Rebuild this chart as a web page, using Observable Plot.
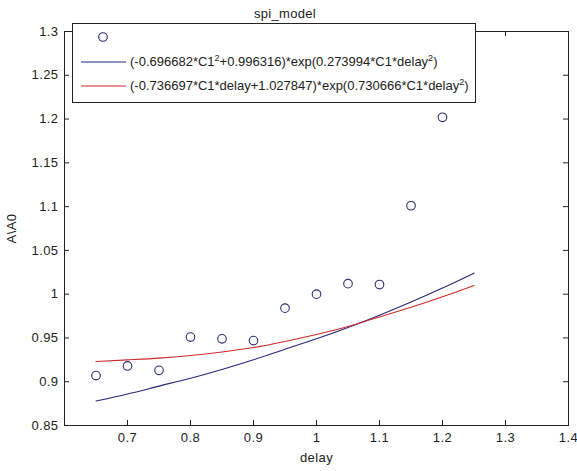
<!DOCTYPE html>
<html>
<head>
<meta charset="utf-8">
<script src="https://cdn.jsdelivr.net/npm/d3@7"></script>
<script src="https://cdn.jsdelivr.net/npm/@observablehq/plot@0.6"></script>
<style>
  html, body { margin: 0; padding: 0; background: #fff; }
  #wrap { position: relative; width: 577px; height: 471px; font-family: "Liberation Sans", Arial, sans-serif; }
  #title { position: absolute; top: 6px; left: 285px; transform: translateX(-50%); font-size: 13px; color: #222; white-space: nowrap; letter-spacing: 0.3px; }
  #legend { position: absolute; left: 72px; top: 23px; width: 402px; height: 78px; background: #fff; border: 1px solid #222; }
  #legend svg { position: absolute; left: 0; top: 0; }
  .lt { position: absolute; left: 57px; font-size: 13px; color: #222; white-space: nowrap; }
  .lt sup { font-size: 9px; vertical-align: 5px; line-height: 0; }
  #chart svg { font-family: "Liberation Sans", Arial, sans-serif; }
  #chart svg text { letter-spacing: 0.4px; }
</style>
</head>
<body>
<div id="wrap">
  <div id="chart"></div>
  <div id="title"></div>
  <div id="legend"></div>
</div>
<script>
// Measured data (circles)
const delay = [0.65, 0.70, 0.75, 0.80, 0.85, 0.90, 0.95, 1.00, 1.05, 1.10, 1.15, 1.20];
const ratio = [0.907, 0.918, 0.913, 0.951, 0.949, 0.947, 0.984, 1.000, 1.012, 1.011, 1.101, 1.202];

// Fitted curves
const fitDelay = [0.65, 0.70, 0.75, 0.80, 0.85, 0.90, 0.95, 1.00, 1.05, 1.10, 1.15, 1.20, 1.25];
const blueFit  = [0.878, 0.886, 0.895, 0.904, 0.914, 0.925, 0.937, 0.949, 0.962, 0.976, 0.991, 1.007, 1.024];
const redFit   = [0.923, 0.925, 0.927, 0.930, 0.934, 0.939, 0.946, 0.954, 0.963, 0.974, 0.985, 0.997, 1.010];

const xTicks = [0.7, 0.8, 0.9, 1.0, 1.1, 1.2, 1.3, 1.4];
const yTicks = [0.85, 0.9, 0.95, 1.0, 1.05, 1.1, 1.15, 1.2, 1.25, 1.3];

const titleText = "spi_model";
const xLabel = "delay";
const yLabel = "A\\A0";
const legendLabels = [
  "",
  "(-0.696682*C1<sup>2</sup>+0.996316)*exp(0.273994*C1*delay<sup>2</sup>)",
  "(-0.736697*C1*delay+1.027847)*exp(0.730666*C1*delay<sup>2</sup>)"
];

const blueColor = "#26267e";
const redColor = "#cc2a2a";
const dotColor = "#2a2a70";

const dots = delay.map((d, i) => ({delay: d, ratio: ratio[i]}));
const blue = fitDelay.map((d, i) => ({delay: d, v: blueFit[i]}));
const red = fitDelay.map((d, i) => ({delay: d, v: redFit[i]}));

const W = 577, H = 471, mL = 64, mR = 9, mT = 31, mB = 46;
const pw = W - mL - mR, ph = H - mT - mB;
const fmt = d => String(+d.toFixed(2));

const chart = Plot.plot({
  width: W, height: H,
  marginLeft: mL, marginRight: mR, marginTop: mT, marginBottom: mB,
  style: {fontSize: "13px", color: "#222", background: "#fff"},
  x: {domain: [0.6, 1.4]},
  y: {domain: [0.85, 1.3]},
  marks: [
    Plot.line(blue, {x: "delay", y: "v", stroke: blueColor, strokeWidth: 1.1, curve: "natural"}),
    Plot.line(red, {x: "delay", y: "v", stroke: redColor, strokeWidth: 1.1, curve: "natural"}),
    Plot.dot(dots, {x: "delay", y: "ratio", r: 4.3, stroke: dotColor, strokeWidth: 1.1, fill: "none"}),
    Plot.frame({stroke: "#222", strokeWidth: 1}),
    // inward ticks on all four sides
    Plot.tickX(xTicks, {x: d => d, stroke: "#222", insetTop: ph - 5}),
    Plot.tickX(xTicks, {x: d => d, stroke: "#222", insetBottom: ph - 5}),
    Plot.tickY(yTicks, {y: d => d, stroke: "#222", insetRight: pw - 5}),
    Plot.tickY(yTicks, {y: d => d, stroke: "#222", insetLeft: pw - 5}),
    Plot.axisX(xTicks, {tickSize: 0, tickPadding: 7, tickFormat: fmt, label: null, fill: "#222"}),
    Plot.axisY(yTicks, {tickSize: 0, tickPadding: 6, tickFormat: fmt, label: null, fill: "#222"}),
    Plot.axisX({ticks: [], label: xLabel, labelAnchor: "center", labelArrow: "none", labelOffset: 36, tickSize: 0}),
    Plot.axisY({ticks: [], label: yLabel, labelAnchor: "center", labelArrow: "none", labelOffset: 58, tickSize: 0})
  ]
});
document.getElementById("chart").appendChild(chart);
document.getElementById("title").textContent = titleText;

// Legend
const leg = document.getElementById("legend");
const ns = "http://www.w3.org/2000/svg";
const ls = document.createElementNS(ns, "svg");
ls.setAttribute("width", 402); ls.setAttribute("height", 78);
const c = document.createElementNS(ns, "circle");
c.setAttribute("cx", 30); c.setAttribute("cy", 13); c.setAttribute("r", 4.3);
c.setAttribute("fill", "none"); c.setAttribute("stroke", dotColor); c.setAttribute("stroke-width", 1.1);
ls.appendChild(c);
[[38, blueColor], [62, redColor]].forEach(([y, col]) => {
  const l = document.createElementNS(ns, "line");
  l.setAttribute("x1", 8); l.setAttribute("x2", 53); l.setAttribute("y1", y); l.setAttribute("y2", y);
  l.setAttribute("stroke", col); l.setAttribute("stroke-width", 1.1);
  ls.appendChild(l);
});
leg.appendChild(ls);
[[1, 30], [2, 54]].forEach(([i, top]) => {
  const d = document.createElement("div");
  d.className = "lt"; d.style.top = top + "px";
  d.innerHTML = legendLabels[i];
  leg.appendChild(d);
});
</script>
</body>
</html>
